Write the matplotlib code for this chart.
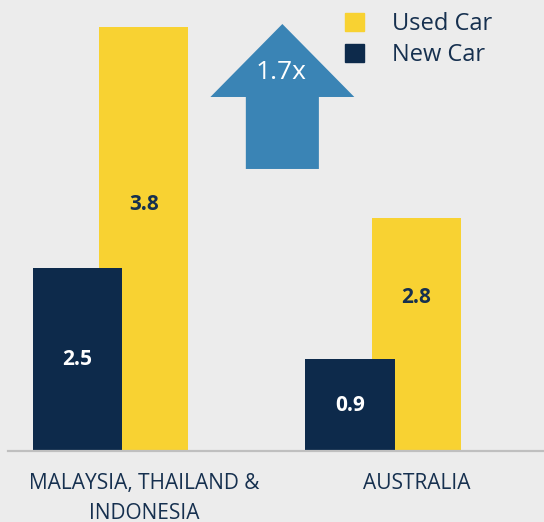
import matplotlib.pyplot as plt
from matplotlib.patches import Patch

plt.rcParams['font.family'] = ['Open Sans', 'DejaVu Sans']

# Data
regions = ['MALAYSIA, THAILAND &\nINDONESIA', 'AUSTRALIA']
new_car_label = ['2.5', '0.9']
used_car_label = ['3.8', '2.8']
# bar heights as drawn in the picture (not to scale with the labels)
new_car_height = [1.64, 0.82]
used_car_height = [3.80, 2.09]
growth_label = '1.7x'

navy = '#0d2a4b'
yellow = '#f8d232'
arrow_blue = '#3a84b5'
text_col = '#16304f'
bg = '#ececec'

fig = plt.figure(figsize=(5.44, 5.22), dpi=100)
fig.patch.set_facecolor(bg)
ax = fig.add_axes([0, 0, 1, 1])
ax.set_facecolor(bg)

x = [0, 1]
w = 0.327
off = 0.122

ax.bar([i + off for i in x], used_car_height, width=w, color=yellow, zorder=2)
ax.bar([i - off for i in x], new_car_height, width=w, color=navy, zorder=3)

# value labels
used_label_y = [2.213, 1.371]
for i in x:
    ax.text(i - off, new_car_height[i] / 2, new_car_label[i], color='white',
            fontsize=15, fontweight='bold', ha='center', va='center', zorder=4)
    ax.text(i + off, used_label_y[i], used_car_label[i], color=text_col,
            fontsize=15, fontweight='bold', ha='center', va='center', zorder=4)

# baseline
ax.axhline(0, xmin=8 / 544, xmax=1, color='#bfbfbf', linewidth=1.6, zorder=5)

# category labels
for i in x:
    ax.text(i + off, -0.195, regions[i], color=text_col, fontsize=15,
            ha='center', va='top', linespacing=1.6)

# growth arrow
ax.arrow(0.63, 2.527, 0, 1.299, width=0.268, head_width=0.528, head_length=0.654,
         length_includes_head=True, color=arrow_blue, linewidth=0, zorder=2)
ax.text(0.625, 3.387, growth_label, color='white', fontsize=19,
        ha='center', va='center', zorder=4)

# legend
handles = [Patch(color=yellow, label='Used Car'), Patch(color=navy, label='New Car')]
leg = ax.legend(handles=handles, loc='upper left', bbox_to_anchor=(324 / 544, 1 + 9 / 522),
                frameon=False, fontsize=17, labelcolor=text_col,
                handlelength=0.8, handleheight=0.8, handletextpad=1.2, labelspacing=0.3)

ax.set_xlim(-0.406, 1.590)
ax.set_ylim(-0.636, 4.041)
ax.axis('off')

plt.savefig('out.png', dpi=100, facecolor=bg)
